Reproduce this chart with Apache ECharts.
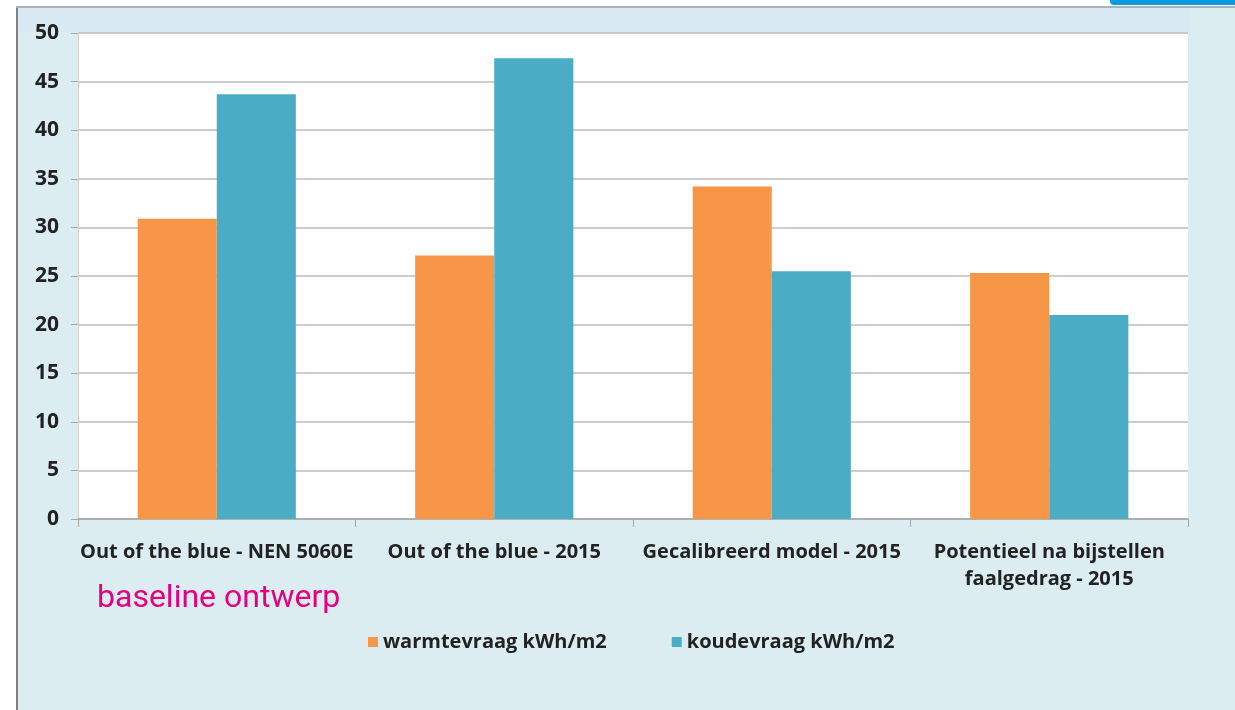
<!DOCTYPE html>
<html>
<head>
<meta charset="utf-8">
<script src="https://cdn.jsdelivr.net/npm/echarts@6/dist/echarts.min.js"></script>
<style>
  html, body { margin: 0; padding: 0; background: #fff; }
  #chart { width: 1235px; height: 710px; }
</style>
</head>
<body>
<div id="chart"></div>
<script>
const categories = [
  'Out of the blue - NEN 5060E',
  'Out of the blue - 2015',
  'Gecalibreerd model - 2015',
  'Potentieel na bijstellen\nfaalgedrag - 2015'
]
const warmte = [30.9, 27.1, 34.2, 25.3]
const koude = [43.7, 47.4, 25.5, 21.0]
const seriesNames = ['warmtevraag kWh/m2', 'koudevraag kWh/m2']

const labelFont = '"Open Sans", "DejaVu Sans", sans-serif'
const chart = echarts.init(document.getElementById('chart'))

chart.setOption({
  animation: false,
  backgroundColor: '#fff',
  graphic: [
    // panel behind the chart
    { type: 'rect', shape: { x: 16, y: 6, width: 1219, height: 704 }, style: { fill: '#dcedf2' }, z: -10 },
    { type: 'rect', shape: { x: 18, y: 8, width: 1172, height: 24 }, style: { fill: '#d8e9f4' }, z: -9 },
    { type: 'line', shape: { x1: 17, y1: 6, x2: 17, y2: 710 }, style: { stroke: '#7d8285', lineWidth: 2 }, z: -8 },
    { type: 'line', shape: { x1: 16, y1: 7, x2: 1235, y2: 7 }, style: { stroke: '#a9b2b6', lineWidth: 2 }, z: -8 },
    { type: 'rect', shape: { x: 1110, y: 0, width: 125, height: 5, r: [0, 0, 0, 4] }, style: { fill: '#0a9be0' }, z: -7 },
    {
      type: 'text', left: 97, top: 583,
      style: { text: 'baseline ontwerp', fill: '#e6007e', font: '32px Roboto, sans-serif' }
    }
  ],
  grid: {
    left: 78, right: 47, top: 33, bottom: 191,
    show: true, backgroundColor: '#ffffff', borderWidth: 0
  },
  legend: {
    top: 627,
    left: 363,
    itemWidth: 10, itemHeight: 10,
    itemGap: 65,
    icon: 'rect',
    textStyle: { fontFamily: labelFont, fontWeight: 'bold', fontSize: 20, color: '#222' },
    data: seriesNames
  },
  xAxis: {
    type: 'category',
    data: categories,
    axisLine: { lineStyle: { color: '#a6a6a6', width: 1.5 } },
    axisTick: { show: true, length: 8, lineStyle: { color: '#a6a6a6' } },
    axisLabel: {
      margin: 20, interval: 0, color: '#222',
      fontFamily: labelFont, fontWeight: 'bold', fontSize: 20, lineHeight: 27
    }
  },
  yAxis: {
    type: 'value',
    min: 0, max: 50, interval: 5,
    axisLine: { show: true, lineStyle: { color: '#d0d0d0' } },
    axisTick: { show: true, length: 7, lineStyle: { color: '#a6a6a6' } },
    splitLine: { lineStyle: { color: '#bdbdbd', width: 1.5 } },
    axisLabel: {
      margin: 19, color: '#222',
      fontFamily: labelFont, fontWeight: 'bold', fontSize: 21
    }
  },
  series: [
    {
      name: seriesNames[0], type: 'bar', data: warmte,
      barGap: '0%', barCategoryGap: '43%',
      itemStyle: { color: '#f79646' }
    },
    {
      name: seriesNames[1], type: 'bar', data: koude,
      itemStyle: { color: '#4bacc6' }
    }
  ]
})
</script>
</body>
</html>
